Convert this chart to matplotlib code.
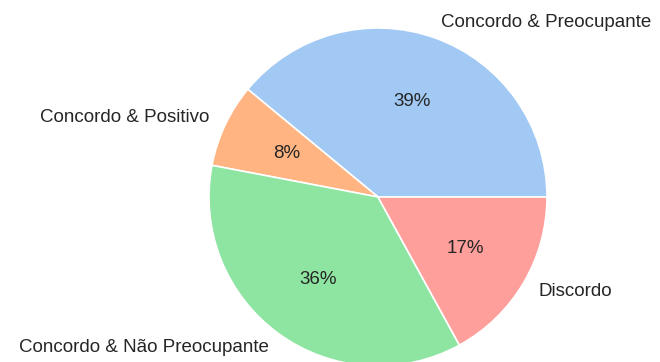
import matplotlib
matplotlib.use("Agg")
import matplotlib.pyplot as plt
import seaborn as sns

sns.set_theme(style="white")
plt.rcParams['font.family'] = ['Liberation Sans', 'DejaVu Sans']

labels = ["Concordo & Preocupante", "Concordo & Positivo",
          "Concordo & Não Preocupante", "Discordo"]
sizes = [39, 8, 36, 17]

colors = sns.color_palette("pastel")[:4]

fig = plt.figure(figsize=(6.6, 3.62), dpi=100)
ax = fig.add_axes([209 / 660, -4 / 362, 338 / 660, 338 / 362])
ax.pie(sizes, labels=labels, colors=colors, autopct="%.0f%%",
       textprops={"fontsize": 13.5, "color": "0.15"},
       wedgeprops={"edgecolor": "white", "linewidth": 1.2})
ax.set_xlim(-1, 1)
ax.set_ylim(-1, 1)

fig.savefig("out.png", dpi=100)
